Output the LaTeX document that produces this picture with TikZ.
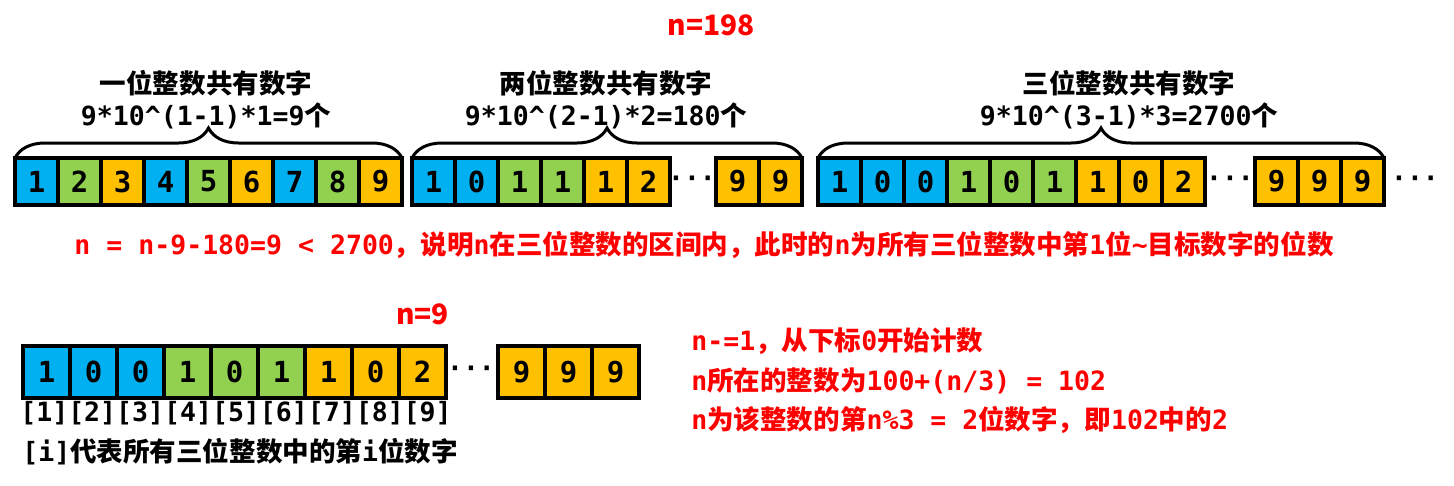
\documentclass[tikz,border=0pt]{standalone}
\usepackage{fontspec}
\setmonofont{DejaVu Sans Mono}
\newfontfamily\zhfont{Noto Sans CJK SC}
\usepackage{xcolor}
\usetikzlibrary{positioning, decorations.pathreplacing}

\definecolor{cellblue}{HTML}{00B0F0}
\definecolor{cellgreen}{HTML}{92D050}
\definecolor{cellorange}{HTML}{FFC000}
\newcommand{\zh}[1]{{\zhfont #1}}

\begin{document}
\begin{tikzpicture}[
    % Casas dos digitos (bordas sobrepostas)
    cell/.style={rectangle, draw=black, line width=0.08cm, outer sep=0pt, inner sep=0pt, minimum width=0.86cm, minimum height=0.94cm, font=\ttfamily\bfseries\fontsize{16.5}{16.5}\selectfont},
    bigcell/.style={cell, minimum width=0.94cm, minimum height=1.04cm},
    dots/.style={inner sep=0pt, font=\ttfamily\bfseries\fontsize{15}{15}\selectfont},
    % Textos
    note/.style={inner sep=0pt, font=\ttfamily\bfseries\fontsize{15.1}{18.2}\selectfont},
    heading/.style={note, align=center},
    rednote/.style={note, text=red},
    value/.style={inner sep=0pt, text=red, font=\zhfont\bfseries\fontsize{16}{16}\selectfont},
    curly/.style={decorate, decoration={brace, amplitude=0.6cm}, line width=0.06cm}
]
\fill[white] (0,0) rectangle (29.08,-9.70);
\useasboundingbox (0,0) rectangle (29.08,-9.70);

% 1. Numeros de um digito
\foreach \d/\c [count=\i] in {1/cellblue,2/cellgreen,3/cellorange,4/cellblue,5/cellgreen,6/cellorange,7/cellblue,8/cellgreen,9/cellorange}
    \node[cell, fill=\c, anchor=west] (a\i) at ({0.30+0.86*(\i-1)},-3.63) {\d};

% 2. Numeros de dois digitos
\foreach \d/\c [count=\i] in {1/cellblue,0/cellblue,1/cellgreen,1/cellgreen,1/cellorange,2/cellorange}
    \node[cell, fill=\c, anchor=west] (b\i) at ({8.24+0.86*(\i-1)},-3.63) {\d};
\node[dots] (dots_b) at (13.84,-3.63) {···};
\foreach \d [count=\i] in {9,9}
    \node[cell, fill=cellorange, anchor=west] (bb\i) at ({14.32+0.86*(\i-1)},-3.63) {\d};

% 3. Numeros de tres digitos
\foreach \d/\c [count=\i] in {1/cellblue,0/cellblue,0/cellblue,1/cellgreen,0/cellgreen,1/cellgreen,1/cellorange,0/cellorange,2/cellorange}
    \node[cell, fill=\c, anchor=west] (c\i) at ({16.36+0.86*(\i-1)},-3.63) {\d};
\node[dots] (dots_c) at (24.60,-3.63) {···};
\foreach \d [count=\i] in {9,9,9}
    \node[cell, fill=cellorange, anchor=west] (cc\i) at ({25.10+0.86*(\i-1)},-3.63) {\d};
\node[dots] (dots_end) at (28.30,-3.63) {···};

% Chaves e contagens
\draw[curly] (a1.north west) -- (a9.north east);
\draw[curly] (b1.north west) -- (bb2.north east);
\draw[curly] (c1.north west) -- (cc3.north east);
\node[heading] (h_one) at (4.12,-2.00) {\zh{一位整数共有数字}\\9*10\textasciicircum(1-1)*1=9\zh{个}};
\node[heading] (h_two) at (12.12,-2.00) {\zh{两位整数共有数字}\\9*10\textasciicircum(2-1)*2=180\zh{个}};
\node[heading] (h_three) at (22.58,-2.00) {\zh{三位整数共有数字}\\9*10\textasciicircum(3-1)*3=2700\zh{个}};
\node[value] (n_start) at (14.22,-0.50) {n=198};

% Condicao
\node[rednote] (cond) at (14.08,-4.90) {n = n-9-180=9 < 2700\zh{，说明}n\zh{在三位整数的区间内，此时的}n\zh{为所有三位整数中第}1\zh{位}\textasciitilde\zh{目标数字的位数}};

% 4. Sequencia dos tres digitos
\foreach \d/\c [count=\i] in {1/cellblue,0/cellblue,0/cellblue,1/cellgreen,0/cellgreen,1/cellgreen,1/cellorange,0/cellorange,2/cellorange}
    \node[bigcell, fill=\c, anchor=west] (e\i) at ({0.46+0.94*(\i-1)},-7.44) {\d};
\node[dots] (dots_e) at (9.42,-7.44) {···};
\foreach \d [count=\i] in {9,9,9}
    \node[bigcell, fill=cellorange, anchor=west] (ee\i) at ({9.96+0.94*(\i-1)},-7.44) {\d};
\node[value, above=0.42cm of e9] (n_left) {n=9};

\node[note, anchor=west] (index) at (0.40,-8.26) {[1][2][3][4][5][6][7][8][9]};
\node[note, anchor=west] (legend) at (0.44,-9.04) {[i]\zh{代表所有三位整数中的第}i\zh{位数字}};

% Calculo final
\node[rednote, anchor=west] (step_one) at (13.82,-6.82) {n-=1\zh{，从下标}0\zh{开始计数}};
\node[rednote, anchor=west] (step_two) at (13.82,-7.62) {n\zh{所在的整数为}100+(n/3) = 102};
\node[rednote, anchor=west] (step_three) at (13.82,-8.40) {n\zh{为该整数的第}n\%3 = 2\zh{位数字，即}102\zh{中的}2};

\end{tikzpicture}
\end{document}
